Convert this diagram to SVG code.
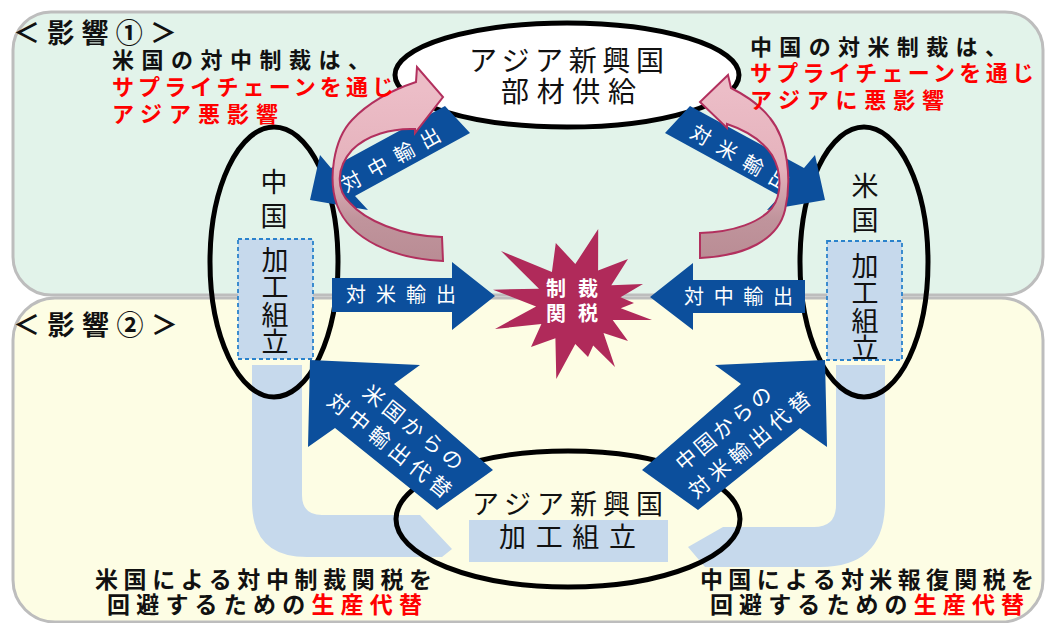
<svg xmlns="http://www.w3.org/2000/svg" width="1045" height="623" viewBox="0 0 1045 623">
<defs>
<style>
.t{font-family:"Noto Sans CJK JP","Noto Sans CJK SC",sans-serif}
.b{font-weight:700}
.red{fill:#ff0000}
.blk{fill:#111}
.wt{fill:#fff}
.arr{fill:#0c4f9c}
.band{fill:#c6d9ec}
.ell{fill:none;stroke:#000;stroke-width:5}
.dbox{fill:#c6d9ec;stroke:#2a82cc;stroke-width:1.8;stroke-dasharray:4 3}
.pink{fill:url(#pg);stroke:#b2305e;stroke-width:2}
.panel{stroke:#bdbdbd;stroke-width:3}
.v{writing-mode:vertical-rl}
</style>
<linearGradient id="pg" gradientUnits="userSpaceOnUse" x1="0" y1="90" x2="0" y2="262">
<stop offset="0" stop-color="#ecbdc7"/>
<stop offset="0.45" stop-color="#e5b2bc"/>
<stop offset="0.75" stop-color="#c0949c"/>
<stop offset="1" stop-color="#b98c94"/>
</linearGradient>
</defs>
<rect width="1045" height="623" fill="#fff"/>
<g id="panels">
<rect class="panel" x="13" y="12" width="1030" height="283" rx="38" fill="#e2f3ea"/>
<rect class="panel" x="13" y="298" width="1030" height="324" rx="42" fill="#fdfde4"/>
</g>
<g id="flows">
<path class="band" d="M252,365 H302 V495 Q302,515 322,515 H420 L452,549 L442,557 H307 Q252,557 252,502 Z"/>
<path class="band" d="M885,365 H836 V505 Q836,527 814,527 H723 L688,547 L705,567 H820 Q885,567 885,502 Z"/>
</g>
<g id="node-china">
<ellipse class="ell" cx="274" cy="262" rx="64" ry="135"/>
<text class="t blk v" font-size="27" x="274" y="168" style="letter-spacing:7px">中国</text>
<rect class="dbox" x="238" y="239" width="75" height="120"/>
<text class="t blk v" font-size="27" x="275" y="246" style="letter-spacing:0.5px">加工組立</text>
</g>
<g id="node-usa">
<ellipse class="ell" cx="864" cy="262" rx="64" ry="135"/>
<text class="t blk v" font-size="27" x="865" y="172" style="letter-spacing:7px">米国</text>
<rect class="dbox" x="827" y="241" width="75" height="119"/>
<text class="t blk v" font-size="27" x="865" y="252" style="letter-spacing:0.5px">加工組立</text>
</g>
<g id="node-asia-supply">
<ellipse cx="567" cy="75" rx="172" ry="52" fill="#fff" stroke="#000" stroke-width="5"/>
<text class="t blk" font-size="28"><tspan x="469" y="71" textLength="195" lengthAdjust="spacing">アジア新興国</tspan><tspan x="501" y="102" textLength="135" lengthAdjust="spacing">部材供給</tspan></text>
</g>
<g id="node-asia-assembly">
<ellipse class="ell" cx="568" cy="519" rx="172" ry="68"/>
<text class="t blk" font-size="27" x="472" y="514" textLength="191" lengthAdjust="spacing">アジア新興国</text>
<rect class="band" x="469" y="520" width="199" height="42"/>
<text class="t blk" font-size="27" x="499" y="547" textLength="137" lengthAdjust="spacing">加工組立</text>
</g>
<g id="connectors">
<polygon class="arr" points="310,200 320,155 331,168 445,106 470,133 355,196 368,210"/>
<polygon class="arr" points="310,200 320,155 331,168 445,106 470,133 355,196 368,210" transform="matrix(-1 0 0 1 1135 0)"/>
<polygon class="arr" points="332,278 452,278 452,262 495,296 452,330 452,312 332,312"/>
<polygon class="arr" points="805,280 693,280 693,263 650,297 693,330 693,313 805,313"/>
<polygon class="arr" points="310,360 420,365 394,384 493,470 437,510 335,428 308,447"/>
<polygon class="arr" points="310,360 420,365 394,384 493,470 437,510 335,428 308,447" transform="matrix(-1 0 0 1 1135 0)"/>
<g class="t wt" font-size="20">
<text x="346" y="302" textLength="110" lengthAdjust="spacing">対米輸出</text>
<text x="684" y="304" textLength="109" lengthAdjust="spacing">対中輸出</text>
<text transform="translate(391,160) rotate(-29)" x="0" y="7" text-anchor="middle" textLength="110" lengthAdjust="spacing">対中輸出</text>
<text transform="translate(740,158) rotate(30)" x="0" y="7" text-anchor="middle" textLength="110" lengthAdjust="spacing">対米輸出</text>
</g>
<g class="t wt" font-size="21" text-anchor="middle">
<text transform="translate(401,437) rotate(39)"><tspan x="3.5" y="-7.5" textLength="122" lengthAdjust="spacing">米国からの</tspan><tspan x="-3.5" y="21.5" textLength="152" lengthAdjust="spacing">対中輸出代替</tspan></text>
<text transform="translate(737,437) rotate(-40)"><tspan x="-4.6" y="-7.7" textLength="118" lengthAdjust="spacing">中国からの</tspan><tspan x="4.6" y="21.7" textLength="152" lengthAdjust="spacing">対米輸出代替</tspan></text>
</g>
<path class="pink" d="M443,261 C395,259 350,240 337,205 C328,180 333,140 352,120 C368,103 392,90 416,82 L417,67 L443,97 L415,133 L415,129 C392,128 367,135 352,150 C336,168 336,190 350,203 C365,220 400,236 442,237 Z"/>
<path class="pink" d="M700,258 C745,256 778,240 785,210 C792,180 788,140 770,118 C760,105 745,95 731,88 L728,75 L700,102 L727,128 L727,124 C745,130 762,140 772,155 C782,172 782,195 772,208 C760,222 735,232 700,233 Z"/>
</g>
<g id="node-sanction">
<polygon fill="#b02a5a" points="493,289.7 539,288.7 501,251 551.9,272 555.8,243 575.3,264 598.2,229 598.1,270.6 628,259 611.3,285.2 643,284 620.5,297.3 634,303 620.8,308.3 652,320 612.7,320 628,341 603.5,333 615,367 593.2,345.6 588,357 575.3,344 556.3,379 555.4,338.3 531,347 541.4,324 495,329 536.1,306.4"/>
<text class="t b wt" font-size="20" text-anchor="middle"><tspan x="572" y="296" textLength="52" lengthAdjust="spacing">制裁</tspan><tspan x="572" y="321" textLength="52" lengthAdjust="spacing">関税</tspan></text>
</g>
<g id="labels" class="t b">
<text class="blk" font-size="27" x="13" y="43" textLength="164" lengthAdjust="spacing">＜影響①＞</text>
<text class="blk" font-size="27" x="13" y="335" textLength="165" lengthAdjust="spacing">＜影響②＞</text>
<text font-size="22"><tspan class="blk" x="112" y="68" textLength="258" lengthAdjust="spacing">米国の対中制裁は、</tspan><tspan class="red" x="112" y="95" textLength="282" lengthAdjust="spacing">サプライチェーンを通じ</tspan><tspan class="red" x="112" y="122" textLength="166" lengthAdjust="spacing">アジア悪影響</tspan></text>
<text font-size="22"><tspan class="blk" x="750" y="55" textLength="257" lengthAdjust="spacing">中国の対米制裁は、</tspan><tspan class="red" x="750" y="81" textLength="284" lengthAdjust="spacing">サプライチェーンを通じ</tspan><tspan class="red" x="750" y="108" textLength="194" lengthAdjust="spacing">アジアに悪影響</tspan></text>
<text class="blk" font-size="23"><tspan x="95" y="588" textLength="337" lengthAdjust="spacing">米国による対中制裁関税を</tspan><tspan x="107" y="613" textLength="315" lengthAdjust="spacing">回避するための<tspan class="red">生産代替</tspan></tspan></text>
<text class="blk" font-size="23"><tspan x="700" y="588" textLength="334" lengthAdjust="spacing">中国による対米報復関税を</tspan><tspan x="710" y="613" textLength="314" lengthAdjust="spacing">回避するための<tspan class="red">生産代替</tspan></tspan></text>
</g>
</svg>
